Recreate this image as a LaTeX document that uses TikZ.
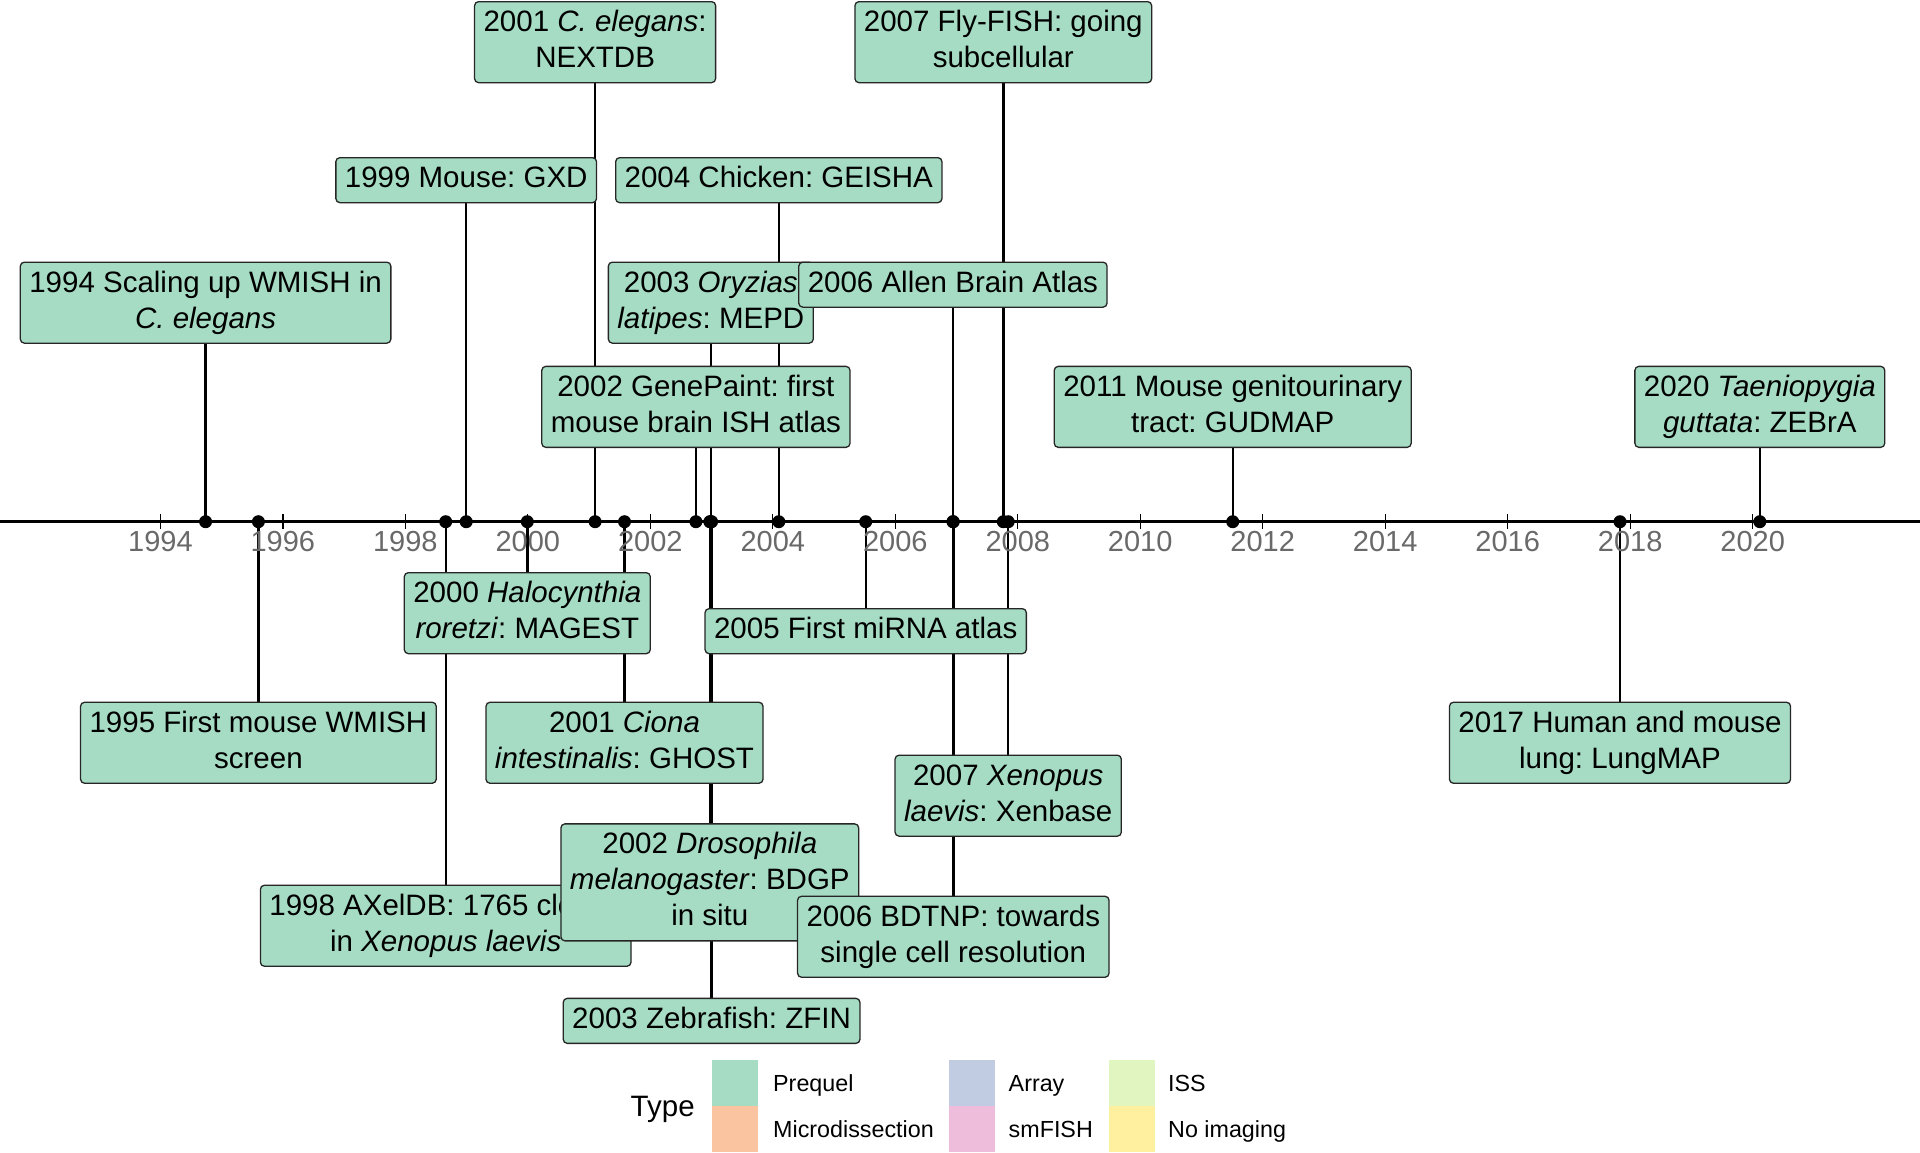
\documentclass[tikz,border=0pt]{standalone}
\usepackage{fontspec}
\setmainfont{Liberation Sans}
\usetikzlibrary{positioning}
\pgfdeclarelayer{bg}
\pgfsetlayers{bg,main}
\frenchspacing
\definecolor{cPre}{RGB}{166,220,196}
\definecolor{cMic}{RGB}{250,196,160}
\definecolor{cArr}{RGB}{193,203,226}
\definecolor{cSm}{RGB}{238,189,220}
\definecolor{cIss}{RGB}{224,245,192}
\definecolor{cNo}{RGB}{255,240,160}
\definecolor{tickgray}{RGB}{105,105,105}
\newcommand{\bs}{\rule[-10.5pt]{0pt}{36pt}}
\newcommand{\evtup}[4]{%
  \node[evdot] (d#1) at (#2,521.7) {};
  \node[lbl, anchor=north] (#1) at (#2,#3) {#4};
  \begin{pgfonlayer}{bg}\draw[stem] (d#1.center) -- (#1.south);\end{pgfonlayer}}
\newcommand{\evdn}[4]{%
  \node[evdot] (d#1) at (#2,521.7) {};
  \node[lbl, anchor=north] (#1) at (#2,#3) {#4};
  \begin{pgfonlayer}{bg}\draw[stem] (d#1.center) -- (#1.north);\end{pgfonlayer}}
\tikzset{
  lbl/.style={draw=black!85, line width=1.3pt, fill=cPre, rounded corners=4pt,
    align=center, inner xsep=9pt, inner ysep=4.5pt,
    font=\fontsize{29.5}{36}\selectfont\frenchspacing},
  evdot/.style={circle, fill=black, inner sep=0pt, minimum size=13pt},
  stem/.style={line width=2.4pt, black},
  axisline/.style={line width=2.8pt, black},
  tickmark/.style={line width=1.3pt, black},
  ticklbl/.style={text=tickgray, font=\fontsize{29}{35}\selectfont, inner sep=0pt, anchor=base},
  swatch/.style={minimum width=46pt, minimum height=46pt, inner sep=0pt, draw=none},
  legtxt/.style={font=\fontsize{23.3}{28}\selectfont, inner sep=0pt, anchor=base west},
}
\begin{document}
\begin{tikzpicture}[x=1pt,y=-1pt]
\useasboundingbox (0,0) rectangle (1920,1152);
% axis
\coordinate (axL) at (0,521.7);
\coordinate (axR) at (1920,521.7);
\begin{pgfonlayer}{bg}
\draw[axisline] (axL) -- (axR);
\foreach \yr in {1994,1996,...,2020}{
  \pgfmathsetmacro\tx{160.4+(\yr-1994)*61.24}
  \draw[tickmark] (\tx,514.3) -- (\tx,529.3);
}
\end{pgfonlayer}
\foreach \yr in {1994,1996,...,2020}{
  \pgfmathsetmacro\tx{160.4+(\yr-1994)*61.24}
  \node[ticklbl] (t\yr) at (\tx,551.5) {\yr};
}
% events in chronological order
\evtup{a94}{205.6}{261.5}{\bs 1994 Scaling up WMISH in\\\bs\textit{C. elegans}}
\evdn{b95}{258.4}{701.6}{\bs 1995 First mouse WMISH\\\bs screen}
\evdn{b98}{445.7}{884.6}{\bs 1998 AXelDB: 1765 clones\\\bs in \textit{Xenopus laevis}}
\evtup{a99}{466.2}{157}{\bs 1999 Mouse: GXD}
\evdn{b00}{527.3}{572}{\bs 2000 \textit{Halocynthia}\\\bs\textit{roretzi}: MAGEST}
\evtup{a01}{595.1}{1}{\bs 2001 \textit{C. elegans}:\\\bs NEXTDB}
\evdn{b01}{624.5}{701.6}{\bs 2001 \textit{Ciona}\\\bs\textit{intestinalis}: GHOST}
\evtup{a02}{695.9}{365.7}{\bs 2002 GenePaint: first\\\bs mouse brain ISH atlas}
\evdn{b02}{709.8}{823.2}{\bs 2002 \textit{Drosophila}\\\bs\textit{melanogaster}: BDGP\\\bs in situ}
\evtup{a03}{710.8}{261.5}{\bs 2003 \textit{Oryzias}\\\bs\textit{latipes}: MEPD}
\evdn{b03}{711.6}{997.7}{\bs 2003 Zebrafish: ZFIN}
\evtup{a04}{778.8}{157}{\bs 2004 Chicken: GEISHA}
\evdn{b05}{865.7}{608}{\bs 2005 First miRNA atlas}
\evtup{a06}{952.9}{261.5}{\bs 2006 Allen Brain Atlas}
\evdn{b06}{953.3}{895.6}{\bs 2006 BDTNP: towards\\\bs single cell resolution}
\evtup{a07}{1003.3}{1}{\bs 2007 Fly-FISH: going\\\bs subcellular}
\evdn{b07}{1008.2}{754.5}{\bs 2007 \textit{Xenopus}\\\bs\textit{laevis}: Xenbase}
\evtup{a11}{1232.7}{365.7}{\bs 2011 Mouse genitourinary\\\bs tract: GUDMAP}
\evdn{b17}{1620}{701.6}{\bs 2017 Human and mouse\\\bs lung: LungMAP}
\evtup{a20}{1759.8}{365.7}{\bs 2020 \textit{Taeniopygia}\\\bs\textit{guttata}: ZEBrA}
% legend
\node[font=\fontsize{29.5}{36}\selectfont, inner sep=0pt, anchor=base west] (legT) at (630.5,1116.6) {Type};
\node[swatch, fill=cPre] (s1) at (734.6,1083) {};
\node[swatch, fill=cMic] (s2) at (734.6,1129) {};
\node[swatch, fill=cArr] (s3) at (972.1,1083) {};
\node[swatch, fill=cSm]  (s4) at (972.1,1129) {};
\node[swatch, fill=cIss] (s5) at (1131.9,1083) {};
\node[swatch, fill=cNo]  (s6) at (1131.9,1129) {};
\node[legtxt] (l1) at (773,1091.3) {Prequel};
\node[legtxt] (l2) at (773,1137.3) {Microdissection};
\node[legtxt] (l3) at (1008.5,1091.3) {Array};
\node[legtxt] (l4) at (1008.5,1137.3) {smFISH};
\node[legtxt] (l5) at (1168,1091.3) {ISS};
\node[legtxt] (l6) at (1168,1137.3) {No imaging};
\end{tikzpicture}
\end{document}
